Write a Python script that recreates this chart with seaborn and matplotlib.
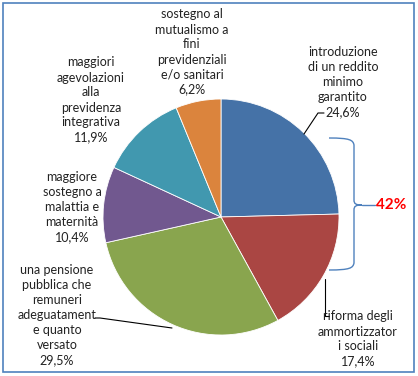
import matplotlib
matplotlib.use("Agg")
import matplotlib.pyplot as plt
import seaborn as sns
from matplotlib.path import Path
from matplotlib.patches import PathPatch, Rectangle

categories = [
    "introduzione\ndi un reddito\nminimo\ngarantito",
    "riforma degli\nammortizzator\ni sociali",
    "una pensione\npubblica che\nremuneri\nadeguatament\ne quanto\nversato",
    "maggiore\nsostegno a\nmalattia e\nmaternità",
    "maggiori\nagevolazioni\nalla\nprevidenza\nintegrativa",
    "sostegno al\nmutualismo a\nfini\nprevidenziali\ne/o sanitari",
]
values = [24.6, 17.4, 29.5, 10.4, 11.9, 6.2]
value_labels = ["24,6%", "17,4%", "29,5%", "10,4%", "11,9%", "6,2%"]
colors = ["#4572A7", "#AA4643", "#89A54E", "#71588F", "#4198AF", "#DB843D"]
bracket_label = "42%"

sns.set_theme(style="white")
plt.rcParams["font.family"] = ["Lato", "DejaVu Sans"]

W, H = 418, 376
fig = plt.figure(figsize=(W / 100, H / 100), dpi=100)
ax = fig.add_axes([0, 0, 1, 1])

def py(y):
    return H - y

ax.pie(values, colors=colors, startangle=90, counterclock=False,
       center=(221, py(217)), radius=118,
       wedgeprops=dict(edgecolor="white", linewidth=0.6))
ax.set_xlim(0, W)
ax.set_ylim(0, H)
ax.set_aspect("equal")
ax.axis("off")

# label positions (pixel centre of text block), one centred text per line
label_pos = [(343, 82), (358, 339), (57, 315), (72, 207), (91, 100), (192, 52)]
fs = 9
lh = 15
for cat, vl, (x, y) in zip(categories, value_labels, label_pos):
    lines = cat.split("\n") + [vl]
    n = len(lines)
    for i, line in enumerate(lines):
        yy = y - (n - 1) / 2 * lh + i * lh
        ax.text(x, py(yy), line, ha="center", va="center",
                fontsize=fs, color="#222222")

# leader lines
lk = dict(color="black", lw=0.8)
ax.plot([324, 318, 304], [py(113), py(113), py(134)], **lk)
ax.plot([325, 325, 329], [py(279), py(316), py(316)], **lk)
ax.plot([95, 100, 172], [py(318), py(318), py(328)], **lk)

# curly brace
verts = [
    (329, py(138)),
    (350, py(138)), (353, py(140)), (354, py(145)),
    (354, py(200)),
    (354, py(204)), (356, py(205)), (362, py(205)),
    (356, py(205)), (354, py(206)), (354, py(210)),
    (354, py(263)),
    (353, py(268)), (350, py(270)), (329, py(270)),
]
codes = [Path.MOVETO,
         Path.CURVE4, Path.CURVE4, Path.CURVE4,
         Path.LINETO,
         Path.CURVE4, Path.CURVE4, Path.CURVE4,
         Path.CURVE4, Path.CURVE4, Path.CURVE4,
         Path.LINETO,
         Path.CURVE4, Path.CURVE4, Path.CURVE4]
ax.add_patch(PathPatch(Path(verts, codes), fill=False, edgecolor="#4F81BD", lw=1.0))
ax.plot([362, 375], [py(205), py(205)], color="#4F81BD", lw=1.0)
ax.text(391, py(205), bracket_label, ha="center", va="center",
        fontsize=11, fontweight="bold", color="red")

# chart border
fig.patches.append(Rectangle((3 / W, 4 / H), 411 / W, 369 / H, transform=fig.transFigure,
                             fill=False, edgecolor="#4F81BD", lw=1.2))

fig.savefig("out.png", dpi=100)
